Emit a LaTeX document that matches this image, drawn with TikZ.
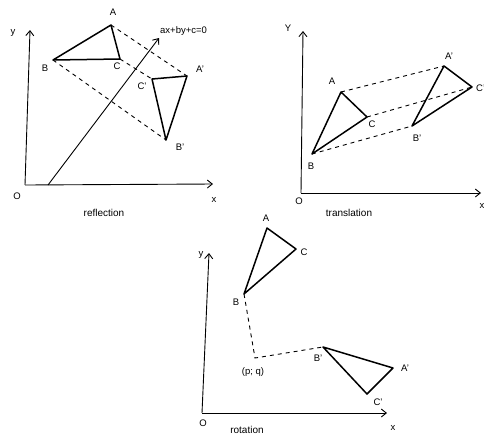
\documentclass[tikz,border=0pt]{standalone}
\usepackage{fontspec}
\setmainfont{Liberation Sans}
\usetikzlibrary{arrows.meta}
\begin{document}
\begin{tikzpicture}[x=1pt,y=-1pt,
  axis/.style={line width=0.9pt,-{Straight Barb[length=5pt,width=8pt]}},
  tri/.style={line width=1.5pt,line join=round},
  dsh/.style={line width=0.9pt,dash pattern=on 4pt off 4pt},
  lbl/.style={font=\fontsize{9.5}{11}\selectfont,inner sep=0pt},
  captxt/.style={font=\fontsize{10}{12}\selectfont,inner sep=0pt}]
\useasboundingbox (0,0) rectangle (484,437);
% ---------- reflection ----------
\coordinate (O1) at (25,185);
\coordinate (Y1) at (30,30);
\coordinate (X1) at (213,184);
\coordinate (L1s) at (48,185);
\coordinate (L1e) at (159,38);
\coordinate (A1) at (111,25);
\coordinate (B1) at (53,60);
\coordinate (C1) at (120,59);
\coordinate (A1p) at (187,76);
\coordinate (C1p) at (152,79);
\coordinate (B1p) at (166,140);
\draw[axis] (O1) -- (Y1);
\draw[axis] (O1) -- (X1);
\draw[axis] (L1s) -- (L1e);
\draw[tri] (A1) -- (B1) -- (C1) -- cycle;
\draw[tri] (A1p) -- (C1p) -- (B1p) -- cycle;
\draw[dsh] (A1) -- (A1p);
\draw[dsh] (B1) -- (B1p);
\draw[dsh] (C1) -- (C1p);
\node[lbl] (ly1) at (13,33) {y};
\node[lbl] (lA1) at (113,12) {A};
\node[lbl] (lB1) at (45,68) {B};
\node[lbl] (lC1) at (117,66) {C};
\node[lbl,anchor=west] (leq) at (160,31) {ax+by+c=0};
\node[lbl] (lC1p) at (142,86) {C'};
\node[lbl] (lA1p) at (200,69) {A'};
\node[lbl] (lB1p) at (180,147) {B'};
\node[lbl] (lO1) at (17,196) {O};
\node[lbl] (lx1) at (214,200) {x};
\node[captxt] (cap1) at (104,213) {reflection};
% ---------- translation ----------
\coordinate (O2) at (301,193);
\coordinate (Y2) at (303,31);
\coordinate (X2) at (481,193);
\coordinate (A2) at (341,92);
\coordinate (C2) at (367,117);
\coordinate (B2) at (312,154);
\coordinate (A2p) at (444,66);
\coordinate (C2p) at (472,87);
\coordinate (B2p) at (412,126);
\draw[axis] (O2) -- (Y2);
\draw[axis] (O2) -- (X2);
\draw[tri] (A2) -- (C2) -- (B2) -- cycle;
\draw[tri] (A2p) -- (C2p) -- (B2p) -- cycle;
\draw[dsh] (A2) -- (A2p);
\draw[dsh] (C2) -- (C2p);
\draw[dsh] (B2) -- (B2p);
\node[lbl] (ly2) at (288,28) {Y};
\node[lbl] (lA2) at (332,81) {A};
\node[lbl] (lC2) at (372,124) {C};
\node[lbl] (lB2) at (311,166) {B};
\node[lbl] (lA2p) at (449,56) {A'};
\node[lbl,anchor=west] (lC2p) at (476,88) {C'};
\node[lbl] (lB2p) at (417,138) {B'};
\node[lbl] (lO2) at (299,201) {O};
\node[lbl] (lx2) at (482,206) {x};
\node[captxt] (cap2) at (349,213) {translation};
% ---------- rotation ----------
\coordinate (O3) at (202,413);
\coordinate (Y3) at (209,253);
\coordinate (X3) at (387,413);
\coordinate (A3) at (267,228);
\coordinate (C3) at (296,249);
\coordinate (B3) at (244,294);
\coordinate (P3) at (255,358);
\coordinate (B3p) at (323,347);
\coordinate (A3p) at (393,368);
\coordinate (C3p) at (367,394);
\draw[axis] (O3) -- (Y3);
\draw[axis] (O3) -- (X3);
\draw[tri] (A3) -- (C3) -- (B3) -- cycle;
\draw[tri] (B3p) -- (A3p) -- (C3p) -- cycle;
\draw[dsh] (B3) -- (P3) -- (B3p);
\node[lbl] (ly3) at (201,255) {y};
\node[lbl] (lA3) at (266,218) {A};
\node[lbl] (lC3) at (304,252) {C};
\node[lbl] (lB3) at (236,302) {B};
\node[lbl] (lP3) at (253,372) {(p; q)};
\node[lbl] (lB3p) at (318,358) {B'};
\node[lbl] (lA3p) at (405,368) {A'};
\node[lbl] (lC3p) at (378,402) {C'};
\node[lbl] (lO3) at (203,423) {O};
\node[lbl] (lx3) at (393,428) {x};
\node[captxt] (cap3) at (247,430) {rotation};
\end{tikzpicture}
\end{document}
